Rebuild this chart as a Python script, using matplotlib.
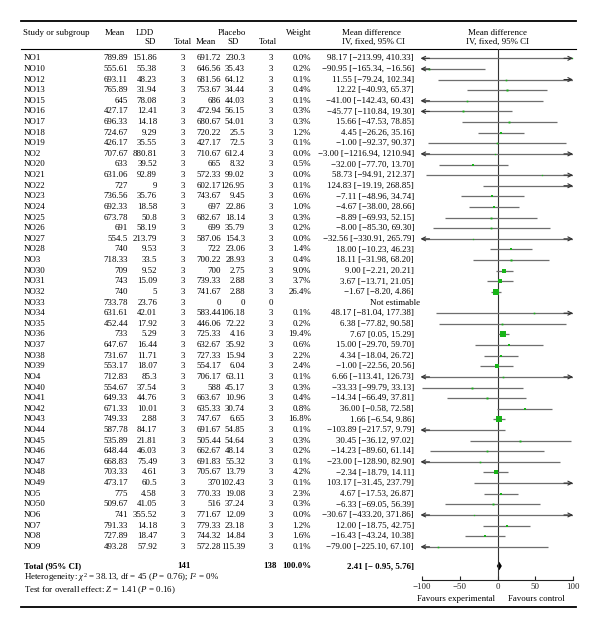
import matplotlib
matplotlib.use("Agg")
import matplotlib.pyplot as plt
import numpy as np

plt.rcParams["font.family"] = ["Liberation Serif", "DejaVu Serif"]
plt.rcParams["mathtext.fontset"] = "custom"
plt.rcParams["mathtext.rm"] = "Liberation Serif"
plt.rcParams["mathtext.it"] = "Liberation Serif:italic"
plt.rcParams["mathtext.bf"] = "Liberation Serif:bold"

studies = ["NO1", "NO10", "NO12", "NO13", "NO15", "NO16", "NO17", "NO18", "NO19", "NO2",
           "NO20", "NO21", "NO22", "NO23", "NO24", "NO25", "NO26", "NO27", "NO28", "NO3",
           "NO30", "NO31", "NO32", "NO33", "NO34", "NO35", "NO36", "NO37", "NO38", "NO39",
           "NO4", "NO40", "NO41", "NO42", "NO43", "NO44", "NO45", "NO46", "NO47", "NO48",
           "NO49", "NO5", "NO50", "NO6", "NO7", "NO8", "NO9"]
ldd_mean = [789.89, 555.61, 693.11, 765.89, 645, 427.17, 696.33, 724.67, 426.17, 707.67,
            633, 631.06, 727, 736.56, 692.33, 673.78, 691, 554.5, 740, 718.33,
            709, 743, 740, 733.78, 631.61, 452.44, 733, 647.67, 731.67, 553.17,
            712.83, 554.67, 649.33, 671.33, 749.33, 587.78, 535.89, 648.44, 668.83, 703.33,
            473.17, 775, 509.67, 741, 791.33, 727.89, 493.28]
ldd_sd = [151.86, 55.38, 48.23, 31.94, 78.08, 12.41, 14.18, 9.29, 35.55, 880.81,
          39.52, 92.89, 9, 35.76, 18.58, 50.8, 58.19, 213.79, 9.53, 33.5,
          9.52, 15.09, 5, 23.76, 42.01, 17.92, 5.29, 16.44, 11.71, 18.07,
          85.3, 37.54, 44.76, 10.01, 2.88, 84.17, 21.81, 46.03, 75.49, 4.61,
          60.5, 4.58, 41.05, 355.52, 14.18, 18.47, 57.92]
ldd_n = [3] * 47
pla_mean = [691.72, 646.56, 681.56, 753.67, 686, 472.94, 680.67, 720.22, 427.17, 710.67,
            665, 572.33, 602.17, 743.67, 697, 682.67, 699, 587.06, 722, 700.22,
            700, 739.33, 741.67, 0, 583.44, 446.06, 725.33, 632.67, 727.33, 554.17,
            706.17, 588, 663.67, 635.33, 747.67, 691.67, 505.44, 662.67, 691.83, 705.67,
            370, 770.33, 516, 771.67, 779.33, 744.32, 572.28]
pla_sd = [230.3, 35.43, 64.12, 34.44, 44.03, 56.15, 54.01, 25.5, 72.5, 612.4,
          8.32, 99.02, 126.95, 9.45, 22.86, 18.14, 35.79, 154.3, 23.06, 28.93,
          2.75, 2.88, 2.88, 0, 106.18, 72.22, 4.16, 35.92, 15.94, 6.04,
          63.11, 45.17, 10.96, 30.74, 6.65, 54.85, 54.64, 48.14, 55.32, 13.79,
          102.43, 19.08, 37.24, 12.09, 23.18, 14.84, 115.39]
pla_n = [3] * 23 + [0] + [3] * 23
weight = [0.0, 0.2, 0.1, 0.4, 0.1, 0.3, 0.3, 1.2, 0.1, 0.0,
          0.5, 0.0, 0.1, 0.6, 1.0, 0.3, 0.2, 0.0, 1.4, 0.4,
          9.0, 3.7, 26.4, None, 0.1, 0.2, 19.4, 0.6, 2.2, 2.4,
          0.1, 0.3, 0.4, 0.8, 16.8, 0.1, 0.3, 0.2, 0.1, 4.2,
          0.1, 2.3, 0.3, 0.0, 1.2, 1.6, 0.1]
md = [98.17, -90.95, 11.55, 12.22, -41.00, -45.77, 15.66, 4.45, -1.00, -3.00,
      -32.00, 58.73, 124.83, -7.11, -4.67, -8.89, -8.00, -32.56, 18.00, 18.11,
      9.00, 3.67, -1.67, None, 48.17, 6.38, 7.67, 15.00, 4.34, -1.00,
      6.66, -33.33, -14.34, 36.00, 1.66, -103.89, 30.45, -14.23, -23.00, -2.34,
      103.17, 4.67, -6.33, -30.67, 12.00, -16.43, -79.00]
ci_lo = [-213.99, -165.34, -79.24, -40.93, -142.43, -110.84, -47.53, -26.26, -92.37, -1216.94,
         -77.70, -94.91, -19.19, -48.96, -38.00, -69.93, -85.30, -330.91, -10.23, -31.98,
         -2.21, -13.71, -8.20, None, -81.04, -77.82, 0.05, -29.70, -18.04, -22.56,
         -113.41, -99.79, -66.49, -0.58, -6.54, -217.57, -36.12, -89.60, -128.90, -18.79,
         -31.45, -17.53, -69.05, -433.20, -18.75, -43.24, -225.10]
ci_hi = [410.33, -16.56, 102.34, 65.37, 60.43, 19.30, 78.85, 35.16, 90.37, 1210.94,
         13.70, 212.37, 268.85, 34.74, 28.66, 52.15, 69.30, 265.79, 46.23, 68.20,
         20.21, 21.05, 4.86, None, 177.38, 90.58, 15.29, 59.70, 26.72, 20.56,
         126.73, 33.13, 37.81, 72.58, 9.86, 9.79, 97.02, 61.14, 82.90, 14.11,
         237.79, 26.87, 56.39, 371.86, 42.75, 10.38, 67.10]
total_n = [141, 138]
total_md, total_lo, total_hi = 2.41, -0.95, 5.76
xticks = [-100, -50, 0, 50, 100]


def num(v):
    return f"{v:g}".replace("-", "\u2212")


def fmt2(v):
    return f"{v:.2f}".replace("-", "\u2212")


W, H = 600, 627
fig = plt.figure(figsize=(W / 100, H / 100), dpi=100)
tab = fig.add_axes([0, 0, 1, 1])
tab.set_xlim(0, W)
tab.set_ylim(H, 0)
tab.axis("off")

fs = 6.4
row_y = 58.3 + 10.62 * np.arange(len(studies))
y_total = 566
plot_top, plot_bot = 49, 580
xl, xr = 422, 573

# rules
tab.plot([21, 576], [21, 21], color="black", lw=1.3)
tab.plot([21, 576], [49, 49], color="black", lw=0.8)
tab.plot([21, 576], [607, 607], color="black", lw=1.3)

# header
h1, h2 = 32.7, 42.3
tab.text(23, h1, "Study or subgroup", fontsize=fs, va="center", ha="left")
tab.text(115, h1, "Mean", fontsize=fs, va="center", ha="center")
tab.text(145, h1, "LDD", fontsize=fs, va="center", ha="center")
tab.text(150, h2, "SD", fontsize=fs, va="center", ha="center")
tab.text(183, h2, "Total", fontsize=fs, va="center", ha="center")
tab.text(232, h1, "Placebo", fontsize=fs, va="center", ha="center")
tab.text(206, h2, "Mean", fontsize=fs, va="center", ha="center")
tab.text(233, h2, "SD", fontsize=fs, va="center", ha="center")
tab.text(268, h2, "Total", fontsize=fs, va="center", ha="center")
tab.text(299, h1, "Weight", fontsize=fs, va="center", ha="center")
tab.text(372, h1, "Mean difference", fontsize=fs, va="center", ha="center")
tab.text(373, h2, "IV, fixed, 95% CI", fontsize=fs, va="center", ha="center")
tab.text(498, h1, "Mean difference", fontsize=fs, va="center", ha="center")
tab.text(498, h2, "IV, fixed, 95% CI", fontsize=fs, va="center", ha="center")

# rows
for i, name in enumerate(studies):
    y = row_y[i]
    tab.text(24, y, name, fontsize=fs, va="center", ha="left")
    tab.text(128, y, num(ldd_mean[i]), fontsize=fs, va="center", ha="right")
    tab.text(157, y, num(ldd_sd[i]), fontsize=fs, va="center", ha="right")
    tab.text(183, y, str(ldd_n[i]), fontsize=fs, va="center", ha="center")
    tab.text(221, y, num(pla_mean[i]), fontsize=fs, va="center", ha="right")
    tab.text(245, y, num(pla_sd[i]), fontsize=fs, va="center", ha="right")
    tab.text(271, y, str(pla_n[i]), fontsize=fs, va="center", ha="center")
    if weight[i] is None:
        tab.text(420, y, "Not estimable", fontsize=fs, va="center", ha="right")
        continue
    tab.text(311, y, f"{weight[i]:.1f}%", fontsize=fs, va="center", ha="right")
    tab.text(414, y, f"{fmt2(md[i])} [{fmt2(ci_lo[i])}, {fmt2(ci_hi[i])}]",
             fontsize=fs, va="center", ha="right")

# total row
tab.text(24, y_total, "Total (95% CI)", fontsize=fs, va="center", ha="left", weight="bold")
tab.text(184, y_total, str(total_n[0]), fontsize=fs, va="center", ha="center", weight="bold")
tab.text(270, y_total, str(total_n[1]), fontsize=fs, va="center", ha="center", weight="bold")
tab.text(311, y_total, "100.0%", fontsize=fs, va="center", ha="right", weight="bold")
tab.text(414, y_total, f"{fmt2(total_md)} [\u2212 {abs(total_lo):.2f}, {fmt2(total_hi)}]",
         fontsize=fs, va="center", ha="right", weight="bold")
tab.text(24, 577, r"Heterogeneity: $\chi^2$ = 38.13, df = 45 ($P$ = 0.76); $I^2$ = 0%",
         fontsize=fs, va="center", ha="left")
tab.text(24, 590, r"Test for overall effect: $Z$ = 1.41 ($P$ = 0.16)",
         fontsize=fs, va="center", ha="left")
tab.text(456, 599, "Favours experimental", fontsize=fs, va="center", ha="center")
tab.text(536, 599, "Favours control", fontsize=fs, va="center", ha="center")

# forest plot
ax = fig.add_axes([xl / W, 1 - plot_bot / H, (xr - xl) / W, (plot_bot - plot_top) / H])
ax.set_xlim(-100, 100)
ax.set_ylim(plot_bot, plot_top)
ax.patch.set_alpha(0)
for s in ["top", "left", "right"]:
    ax.spines[s].set_visible(False)
ax.spines["bottom"].set_linewidth(0.8)
ax.spines["bottom"].set_color("#222222")
ax.set_yticks([])
ax.set_xticks(xticks)
ax.set_xticklabels([str(t).replace("-", "\u2212") for t in xticks], fontsize=fs)
ax.tick_params(axis="x", direction="in", length=3, width=0.8, pad=2, colors="#222222")
ax.axvline(0, color="#333333", lw=0.8)

line_col = "#6e6e6e"
for i in range(len(studies)):
    if weight[i] is None:
        continue
    y = row_y[i]
    lo = max(ci_lo[i], -100)
    hi = min(ci_hi[i], 100)
    ax.plot([lo, hi], [y, y], color=line_col, lw=0.9, solid_capstyle="butt")
    if ci_lo[i] < -100:
        ax.annotate("", xy=(-102, y), xytext=(-90, y),
                    arrowprops=dict(arrowstyle="->", lw=0.8, color="#333333",
                                    mutation_scale=7, shrinkA=0, shrinkB=0),
                    annotation_clip=False)
    if ci_hi[i] > 100:
        ax.annotate("", xy=(100, y), xytext=(88, y),
                    arrowprops=dict(arrowstyle="->", lw=0.8, color="#333333",
                                    mutation_scale=7, shrinkA=0, shrinkB=0),
                    annotation_clip=False)
    if -100 <= md[i] <= 100:
        side_px = 1.3 + 1.1 * np.sqrt(weight[i])
        ax.plot(md[i], y, marker="s", ms=side_px * 0.72, color="#18b418",
                mec="#18b418", mew=0)

dh = 4.2
ax.fill([total_lo, total_md, total_hi, total_md],
        [y_total, y_total - dh, y_total, y_total + dh], color="black", lw=0)

fig.savefig("out.png", dpi=100)
